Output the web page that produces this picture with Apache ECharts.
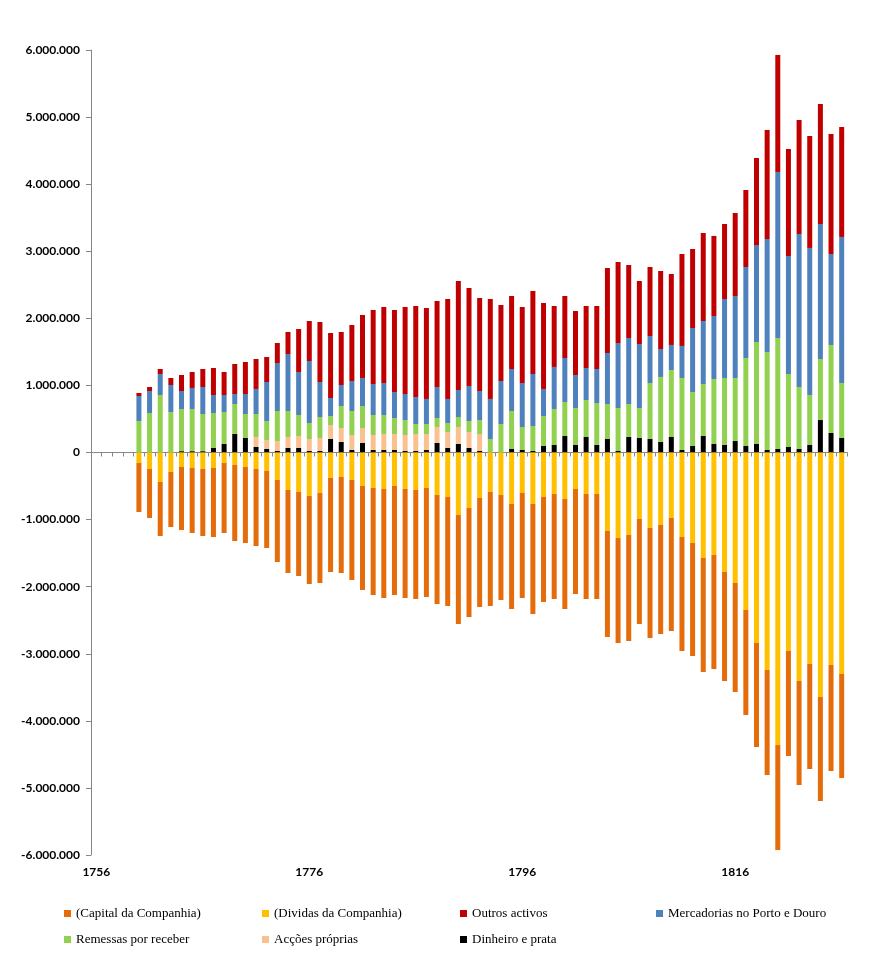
<!DOCTYPE html>
<html>
<head>
<meta charset="utf-8">
<script src="https://cdn.jsdelivr.net/npm/echarts@6/dist/echarts.min.js"></script>
<style>
html,body{margin:0;padding:0;background:#fff;}
#chart{width:880px;height:966px;}
</style>
</head>
<body>
<div id="chart"></div>
<script>
// Values in thousands (contos)
const years = [1756,1757,1758,1759,1760,1761,1762,1763,1764,1765,1766,1767,1768,1769,1770,1771,1772,1773,1774,1775,1776,
1777,1778,1779,1780,1781,1782,1783,1784,1785,1786,1787,1788,1789,1790,1791,1792,
1793,1794,1795,1796,1797,1798,1799,1800,1801,1802,1803,1804,1805,1806,1807,1808,1809,
1810,1811,1812,1813,1814,1815,1816,1817,1818,1819,1820,1821,1822,1823,1824,1825,1826];

const dinheiro = [null,null,null,null,
0,0,0,0,20,20,20,67,127,276,216,82,52,22,67,67,22,
22,201,157,37,142,37,37,37,22,22,37,142,67,127,67,22,
0,0,52,37,22,97,112,246,112,231,112,201,22,231,216,201,157,
231,37,97,246,127,112,171,97,127,37,52,82,52,112,484,291,216];

const accoes = [null,null,null,null,
0,0,0,0,0,0,0,0,0,0,0,149,134,149,164,179,179,
194,209,208,224,223,224,239,239,239,254,239,238,239,253,239,254,
0,0,0,0,0,0,0,0,0,0,0,0,0,0,0,0,0,
0,0,0,0,0,0,0,0,0,0,0,0,0,0,0,0,0];

const remessas = [null,null,null,null,
470,589,857,604,628,628,554,522,477,447,358,343,284,448,388,313,239,
313,134,328,358,328,298,283,238,223,149,149,134,134,149,164,208,
201,425,567,343,373,447,536,507,551,552,626,522,641,492,447,835,969,
999,1074,805,775,969,999,940,1312,1520,1461,1655,1088,924,745,910,1312,820];

const mercadorias = [null,null,null,null,
372,328,313,402,269,314,402,268,253,149,298,373,581,715,849,641,924,
522,268,313,447,418,462,477,388,388,402,373,462,358,403,521,433,
597,641,626,656,775,403,627,656,492,477,507,760,969,984,954,701,417,
373,477,954,939,939,1177,1222,1356,1446,1685,2475,1759,2281,2192,2012,1356,2177];

const outros = [null,null,null,null,
45,59,75,105,238,238,269,403,343,447,477,447,373,298,328,641,596,
894,969,790,835,939,1103,1133,1222,1297,1357,1356,1282,1490,1625,1461,1386,
1490,1133,1088,1133,1238,1282,909,924,954,924,939,1267,1208,1088,940,1028,1163,
1058,1371,1178,1312,1193,1118,1237,1148,1297,1625,1744,1595,1700,1669,1789,1789,1639];

const dividas = [null,null,null,null,
157,246,440,291,216,231,246,231,157,186,216,246,276,410,559,589,649,
604,380,365,410,499,529,544,499,544,559,529,634,663,932,828,678,
589,634,768,604,768,663,619,693,544,619,619,1170,1275,1230,991,1125,1081,
976,1260,1349,1573,1528,1781,1945,2348,2840,3242,4361,2959,3406,3153,3645,3168,3302];

const capital = [null,null,null,null,
730,730,805,820,939,969,999,1029,1043,1133,1133,1148,1148,1222,1237,1252,1311,
1341,1401,1431,1491,1551,1595,1625,1625,1625,1625,1625,1624,1625,1625,1624,1625,
1699,1565,1565,1565,1640,1566,1565,1640,1565,1565,1565,1580,1565,1580,1566,1640,1625,
1685,1699,1685,1699,1700,1625,1625,1565,1550,1566,1565,1565,1551,1565,1550,1580,1550];

const yTicks = {min:-6000000, max:6000000, step:1000000};

const UNIT = 1000;
const pos = a => a.map(v => v == null ? null : v * UNIT);
const neg = a => a.map(v => v == null ? null : -v * UNIT);

const names = {
  capital: '(Capital da Companhia)',
  dividas: '(Dividas da Companhia)',
  outros: 'Outros activos',
  merc: 'Mercadorias no Porto e Douro',
  rem: 'Remessas por receber',
  acc: 'Acções próprias',
  din: 'Dinheiro e prata'
};
const colors = {
  capital:'#E46C0A', dividas:'#FFC000', outros:'#C00000', merc:'#4F81BD',
  rem:'#92D050', acc:'#FAC090', din:'#000000'
};

function fmt(v){
  const s = Math.abs(v).toString().replace(/\B(?=(\d{3})+(?!\d))/g, '.');
  return (v < 0 ? '-' : '') + s;
}

function bar(key, data){
  return {
    name: names[key], type:'bar', stack:'total', data: data,
    barWidth: 5, itemStyle:{color: colors[key]}, xAxisIndex:0, yAxisIndex:0
  };
}

const legendFont = {fontFamily:'"Liberation Serif", "Times New Roman", serif', fontSize:13, color:'#000'};
function lg(key, left, top){
  return {data:[names[key]], left:left, top:top, icon:'rect', itemWidth:7, itemHeight:7,
    itemGap:0, textStyle:legendFont, padding:0};
}

const chart = echarts.init(document.getElementById('chart'), null, {renderer:'canvas'});
chart.setOption({
  animation:false,
  backgroundColor:'#fff',
  grid:{left:91, right:33, top:50, bottom:111, containLabel:false},
  legend:[
    lg('capital', 64, 907), lg('dividas', 262, 907), lg('outros', 460, 907), lg('merc', 656, 907),
    lg('rem', 64, 933), lg('acc', 262, 933), lg('din', 460, 933)
  ],
  xAxis:[
    {type:'category', data:years, boundaryGap:true,
     axisLine:{show:true, onZero:true, lineStyle:{color:'#868686', width:1}},
     axisTick:{show:true, interval:0, length:4, lineStyle:{color:'#868686'}},
     axisLabel:{show:false}, splitLine:{show:false}},
    {type:'category', data:years, boundaryGap:true, position:'bottom',
     axisLine:{show:false, onZero:false}, axisTick:{show:false},
     axisLabel:{show:true, interval:19, margin:11,
       fontFamily:'Lato, "Liberation Sans", sans-serif', fontWeight:'bold', fontSize:12, color:'#000'},
     splitLine:{show:false}}
  ],
  yAxis:[{type:'value', min:yTicks.min, max:yTicks.max, interval:yTicks.step,
    axisLine:{show:true, lineStyle:{color:'#868686', width:1}},
    axisTick:{show:true, length:5, lineStyle:{color:'#868686'}},
    splitLine:{show:false},
    axisLabel:{margin:11, formatter: fmt,
      fontFamily:'Lato, "Liberation Sans", sans-serif', fontWeight:'bold', fontSize:12, color:'#000'}}],
  series:[
    bar('din', pos(dinheiro)),
    bar('acc', pos(accoes)),
    bar('rem', pos(remessas)),
    bar('merc', pos(mercadorias)),
    bar('outros', pos(outros)),
    bar('dividas', neg(dividas)),
    bar('capital', neg(capital))
  ]
});
</script>
</body>
</html>
